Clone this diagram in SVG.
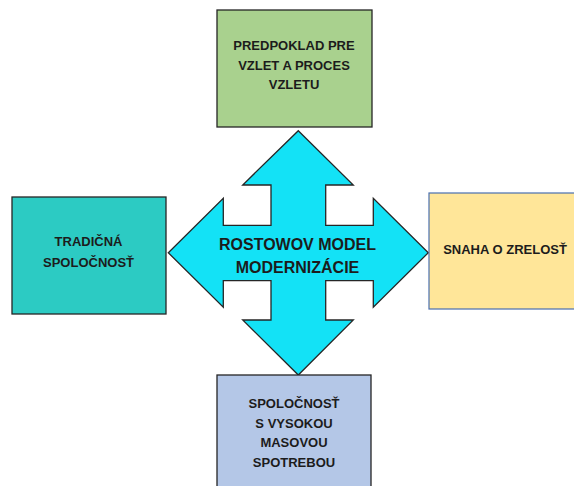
<svg xmlns="http://www.w3.org/2000/svg" width="574" height="486" viewBox="0 0 574 486">
<style>
.box{stroke:#262626;stroke-width:1.3}
.t{font-family:"Liberation Sans",Arial,sans-serif;font-weight:bold;font-size:13px;fill:#1c1c1c;text-anchor:middle}
.tc{font-size:16px}
</style>
<rect width="574" height="486" fill="#ffffff"/>
<g id="center">
<path d="M298.3,130.7 L353.3,185 L325.7,185 L325.7,225.3 L373.3,225.3 L373.3,198.3 L428.3,252.7 L373.3,307.3 L373.3,280.7 L325.7,280.7 L325.7,320 L353.3,320 L298.3,375 L242.7,320 L271,320 L271,280.7 L223.3,280.7 L223.3,307.3 L168.3,252.7 L223.3,198.3 L223.3,225.3 L271,225.3 L271,185 L242.7,185 Z" fill="#13e2f6" stroke="#262626" stroke-width="1.3" stroke-linejoin="miter"/>
<text class="t tc" x="297.5" y="250">ROSTOWOV MODEL</text>
<text class="t tc" x="297.5" y="272.5">MODERNIZÁCIE</text>
</g>
<g id="top">
<rect class="box" x="217" y="10" width="155" height="117" fill="#a9d18e"/>
<text class="t" x="294" y="50">PREDPOKLAD PRE</text>
<text class="t" x="294" y="69.5">VZLET A PROCES</text>
<text class="t" x="294" y="89">VZLETU</text>
</g>
<g id="left">
<rect class="box" x="12" y="197" width="154" height="117" fill="#2ccbc3"/>
<text class="t" x="88.5" y="245.5">TRADIČNÁ</text>
<text class="t" x="88.5" y="266.5">SPOLOČNOSŤ</text>
</g>
<g id="right">
<rect x="429" y="193" width="155" height="116" fill="#ffe699" stroke="#4a6fb0" stroke-width="1.2"/>
<text class="t" x="505" y="254">SNAHA O ZRELOSŤ</text>
</g>
<g id="bottom">
<rect class="box" x="217" y="375" width="154" height="120" fill="#b4c7e7"/>
<text class="t" x="294" y="408">SPOLOČNOSŤ</text>
<text class="t" x="294" y="427.5">S VYSOKOU</text>
<text class="t" x="294" y="447">MASOVOU</text>
<text class="t" x="294" y="466.5">SPOTREBOU</text>
</g>
<g id="connectors"/>
</svg>
